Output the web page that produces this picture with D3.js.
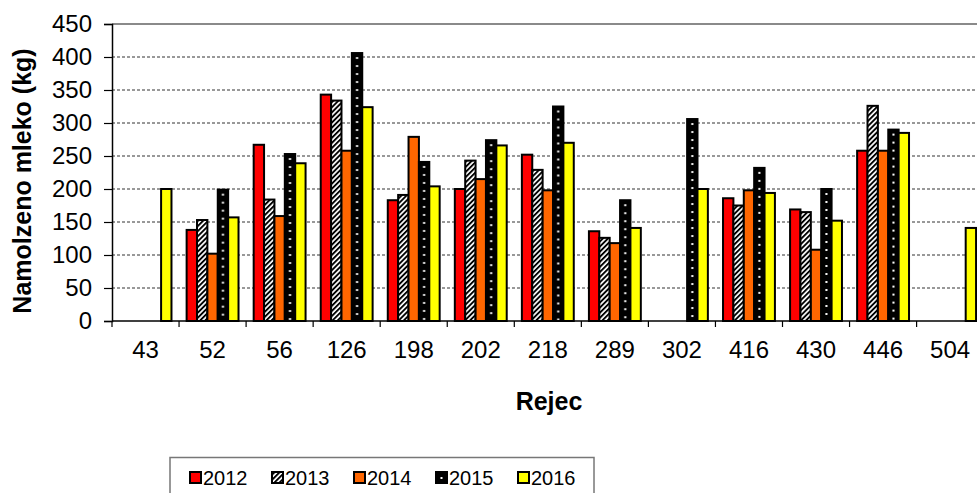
<!DOCTYPE html>
<html>
<head>
<meta charset="utf-8">
<script src="https://cdn.jsdelivr.net/npm/d3@7"></script>
<style>
  html, body { margin: 0; padding: 0; background: #fff; overflow: hidden; }
  svg { display: block; font-family: "Liberation Sans", Arial, sans-serif; }
</style>
</head>
<body>
<svg id="chart" width="977" height="493"></svg>
<script>
// Milk yield per cow (kg) by year
const categories = ["43", "52", "56", "126", "198", "202", "218", "289", "302", "416", "430", "446", "504"];
const years = ["2012", "2013", "2014", "2015", "2016"];
const values2012 = [null, 138, 267, 343, 183, 200, 252, 136, null, 186, 169, 258, null];
const values2013 = [null, 153, 184, 334, 191, 243, 229, 126, null, 175, 165, 326, null];
const values2014 = [null, 102, 159, 258, 279, 215, 198, 118, null, 198, 108, 258, null];
const values2015 = [null, 199, 253, 406, 241, 274, 325, 183, 306, 232, 200, 290, null];
const values2016 = [200, 157, 239, 324, 204, 266, 270, 141, 200, 194, 152, 285, 141];
const yTicks = [0, 50, 100, 150, 200, 250, 300, 350, 400, 450];

const seriesValues = [values2012, values2013, values2014, values2015, values2016];

const svg = d3.select("#chart");
const plotLeft = 112, plotTop = 24, plotBottom = 321;
const bandW = 67.05;
const plotRight = plotLeft + bandW * categories.length;

const x = d3.scaleBand().domain(categories).range([plotLeft, plotRight]).padding(0);
const xs = d3.scaleBand().domain(years)
  .range([x.bandwidth() * 0.113, x.bandwidth() * 0.887]).padding(0);
const y = d3.scaleLinear().domain([0, 450]).range([plotBottom, plotTop]);

const fills = { "2012": "#ff0000", "2013": "url(#hatch)", "2014": "#ff6600", "2015": "#000000", "2016": "#ffff00" };

const defs = svg.append("defs");
// diagonal hatch
const hatch = defs.append("pattern").attr("id", "hatch")
  .attr("patternUnits", "userSpaceOnUse").attr("width", 3.6).attr("height", 4)
  .attr("patternTransform", "rotate(45)");
hatch.append("rect").attr("width", 3.6).attr("height", 4).attr("fill", "#fff");
hatch.append("rect").attr("width", 1.9).attr("height", 4).attr("fill", "#000");

// gridlines
svg.append("g").selectAll("line")
  .data(yTicks.filter(t => t > 0 && t < 450))
  .join("line")
  .attr("x1", plotLeft).attr("x2", 977)
  .attr("y1", d => y(d)).attr("y2", d => y(d))
  .attr("stroke", "#333").attr("stroke-width", 1)
  .attr("stroke-dasharray", "3,2");

// top border of plot area
svg.append("line").attr("x1", plotLeft).attr("x2", 977)
  .attr("y1", y(450)).attr("y2", y(450))
  .attr("stroke", "#8a8a8a").attr("stroke-width", 2);

// bars
const rows = [];
categories.forEach((c, i) => {
  years.forEach((yr, j) => {
    const v = seriesValues[j][i];
    if (v != null) rows.push({ cat: c, year: yr, value: v, idx: rows.length });
  });
});

// dotted fill for 2015 bars, aligned to each bar
rows.filter(d => d.year === "2015").forEach(d => {
  const bx = x(d.cat) + xs(d.year);
  const p = defs.append("pattern").attr("id", "dots" + d.idx)
    .attr("patternUnits", "userSpaceOnUse")
    .attr("x", bx).attr("y", y(d.value))
    .attr("width", xs.bandwidth()).attr("height", 8);
  p.append("rect").attr("width", xs.bandwidth()).attr("height", 8).attr("fill", "#000");
  p.append("rect").attr("x", xs.bandwidth() / 2 - 1).attr("y", 4)
    .attr("width", 2).attr("height", 2).attr("fill", "#fff");
});

svg.append("g").selectAll("rect")
  .data(rows)
  .join("rect")
  .attr("x", d => x(d.cat) + xs(d.year))
  .attr("y", d => y(d.value))
  .attr("width", xs.bandwidth())
  .attr("height", d => y(0) - y(d.value))
  .attr("fill", d => d.year === "2015" ? "url(#dots" + d.idx + ")" : fills[d.year])
  .attr("stroke", "#000").attr("stroke-width", 2);

// y axis
const yAxis = svg.append("g").attr("transform", `translate(${plotLeft},0)`)
  .call(d3.axisLeft(y).tickValues(yTicks).tickSize(8).tickPadding(12));
yAxis.select(".domain").attr("stroke", "#000").attr("stroke-width", 1.5);
yAxis.selectAll(".tick line").attr("stroke", "#000").attr("stroke-width", 1.2);
yAxis.selectAll(".tick text").attr("font-size", 24)
  .attr("font-family", "'Liberation Sans', Arial, sans-serif").attr("fill", "#000");

// x axis
const xAxisG = svg.append("g").attr("transform", `translate(0,${plotBottom})`);
xAxisG.append("line").attr("x1", plotLeft).attr("x2", 977).attr("y1", 0).attr("y2", 0)
  .attr("stroke", "#000").attr("stroke-width", 1.5);
xAxisG.selectAll("line.tk")
  .data(categories)
  .join("line").attr("class", "tk")
  .attr("x1", d => x(d)).attr("x2", d => x(d))
  .attr("y1", 0).attr("y2", 6)
  .attr("stroke", "#000").attr("stroke-width", 1.2);
xAxisG.selectAll("text")
  .data(categories)
  .join("text")
  .attr("x", d => x(d) + x.bandwidth() / 2)
  .attr("y", 37)
  .attr("text-anchor", "middle")
  .attr("font-size", 24)
  .attr("fill", "#000")
  .text(d => d);

// axis titles
svg.append("text")
  .attr("transform", "translate(31,181) rotate(-90)")
  .attr("text-anchor", "middle")
  .attr("font-size", 25).attr("font-weight", "bold")
  .text("Namolzeno mleko (kg)");

svg.append("text")
  .attr("x", 549).attr("y", 410)
  .attr("text-anchor", "middle")
  .attr("font-size", 25).attr("font-weight", "bold")
  .text("Rejec");

// legend
const legend = svg.append("g");
legend.append("rect")
  .attr("x", 170).attr("y", 457.5).attr("width", 424).attr("height", 60)
  .attr("fill", "#fff").attr("stroke", "#777").attr("stroke-width", 1.5);

const item = legend.selectAll("g.item")
  .data(years)
  .join("g").attr("class", "item")
  .attr("transform", (d, i) => `translate(${190 + i * 82},0)`);
item.append("rect")
  .attr("x", 0).attr("y", 472).attr("width", 11).attr("height", 11)
  .attr("fill", d => d === "2015" ? "#000" : fills[d])
  .attr("stroke", "#000").attr("stroke-width", 2);
item.filter(d => d === "2015").append("rect")
  .attr("x", 4.5).attr("y", 477).attr("width", 2).attr("height", 2).attr("fill", "#fff");
item.append("text")
  .attr("x", 13).attr("y", 484.5)
  .attr("font-size", 20).attr("fill", "#000")
  .text(d => d);
</script>
</body>
</html>
